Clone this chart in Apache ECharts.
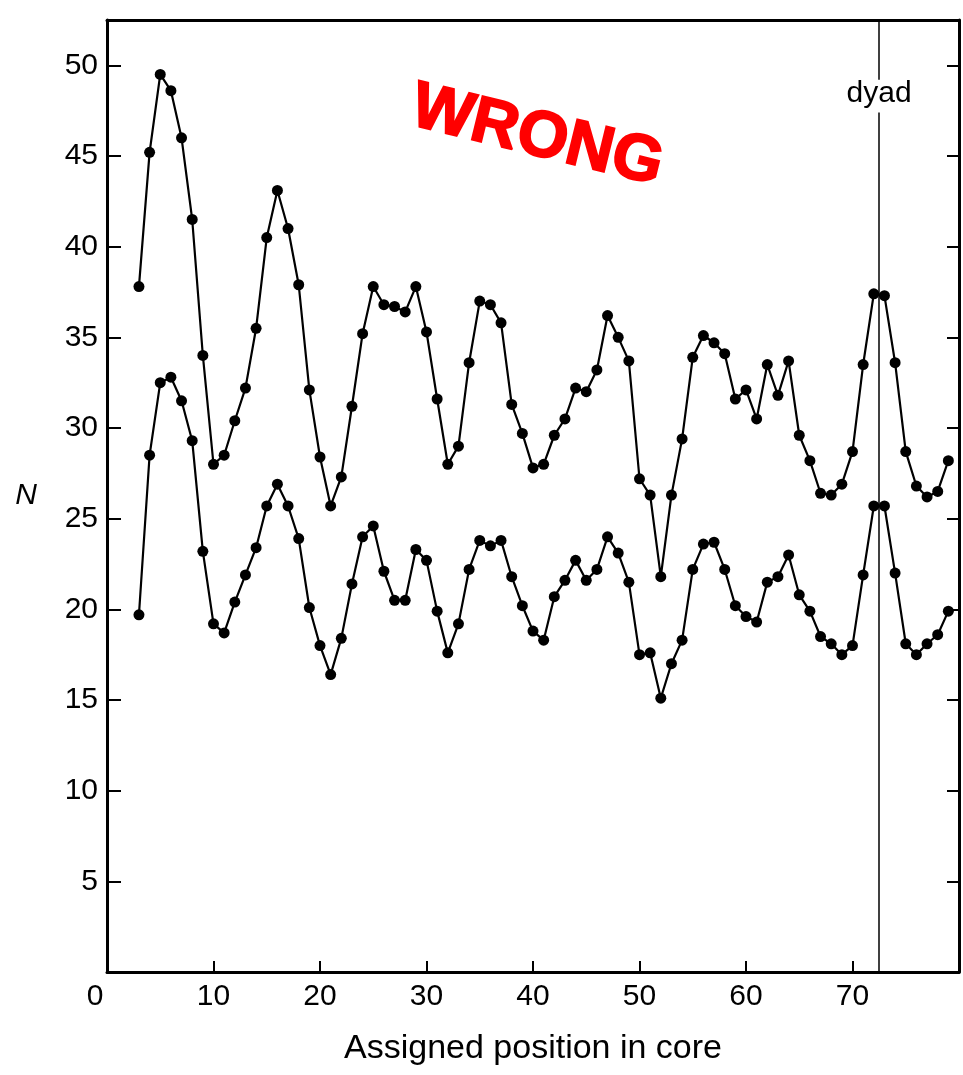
<!DOCTYPE html>
<html>
<head>
<meta charset="utf-8">
<script src="https://cdn.jsdelivr.net/npm/echarts@6/dist/echarts.min.js"></script>
<style>
  html, body { margin: 0; padding: 0; background: #fff; }
  #chart { width: 963px; height: 1075px; }
</style>
</head>
<body>
<div id="chart"></div>
<script>
// Assigned positions in core (x values)
const positions = [3, 4, 5, 6, 7, 8, 9, 10, 11, 12, 13, 14, 15, 16, 17, 18, 19, 20, 21, 22,
  23, 24, 25, 26, 27, 28, 29, 30, 31, 32, 33, 34, 35, 36, 37, 38, 39, 40, 41, 42,
  43, 44, 45, 46, 47, 48, 49, 50, 51, 52, 53, 54, 55, 56, 57, 58, 59, 60, 61, 62,
  63, 64, 65, 66, 67, 68, 69, 70, 71, 72, 73, 74, 75, 76, 77, 78, 79];

// Upper curve values (N)
const upperN = [37.8, 45.2, 49.5, 48.6, 46.0, 41.5, 34.0, 28.0, 28.5, 30.4,
  32.2, 35.5, 40.5, 43.1, 41.0, 37.9, 32.1, 28.4, 25.7, 27.3,
  31.2, 35.2, 37.8, 36.8, 36.7, 36.4, 37.8, 35.3, 31.6, 28.0,
  29.0, 33.6, 37.0, 36.8, 35.8, 31.3, 29.7, 27.8, 28.0, 29.6,
  30.5, 32.2, 32.0, 33.2, 36.2, 35.0, 33.7, 27.2, 26.3, 21.8,
  26.3, 29.4, 33.9, 35.1, 34.7, 34.1, 31.6, 32.1, 30.5, 33.5,
  31.8, 33.7, 29.6, 28.2, 26.4, 26.3, 26.9, 28.7, 33.5, 37.4,
  37.3, 33.6, 28.7, 26.8, 26.2, 26.5, 28.2];

// Lower curve values (N)
const lowerN = [19.7, 28.5, 32.5, 32.8, 31.5, 29.3, 23.2, 19.2, 18.7, 20.4,
  21.9, 23.4, 25.7, 26.9, 25.7, 23.9, 20.1, 18.0, 16.4, 18.4,
  21.4, 24.0, 24.6, 22.1, 20.5, 20.5, 23.3, 22.7, 19.9, 17.6,
  19.2, 22.2, 23.8, 23.5, 23.8, 21.8, 20.2, 18.8, 18.3, 20.7,
  21.6, 22.7, 21.6, 22.2, 24.0, 23.1, 21.5, 17.5, 17.6, 15.1,
  17.0, 18.3, 22.2, 23.6, 23.7, 22.2, 20.2, 19.6, 19.3, 21.5,
  21.8, 23.0, 20.8, 19.9, 18.5, 18.1, 17.5, 18.0, 21.9, 25.7,
  25.7, 22.0, 18.1, 17.5, 18.1, 18.6, 19.9];

// Dyad position and label gap
const dyadX = 72.5;
const dyadGapLow = 47.4;
const dyadGapHigh = 49.2;

const xMin = 0, xMax = 80, xStep = 10;
const yMin = 0, yMax = 52.5, yStep = 5;

const FONT = '"Liberation Sans", Arial, Helvetica, sans-serif';

const chart = echarts.init(document.getElementById('chart'), null, { renderer: 'canvas' });

function pairs(xs, ys) { return xs.map((x, i) => [x, ys[i]]); }

const axisLine = { show: true, onZero: false, lineStyle: { color: '#000', width: 3 } };

const option = {
  animation: false,
  backgroundColor: '#fff',
  grid: { left: 107, right: 4, top: 20, bottom: 103, containLabel: false },
  xAxis: [
    {
      type: 'value', position: 'bottom', min: xMin, max: xMax, interval: xStep,
      axisLine: axisLine,
      axisTick: { show: true, inside: true, length: 11, lineStyle: { color: '#000', width: 2 } },
      splitLine: { show: false },
      axisLabel: {
        color: '#000', fontSize: 30, fontFamily: FONT, margin: 10,
        formatter: v => (v === 0 ? '{o|0}' : (v === xMax ? '' : String(v))),
        rich: { o: { fontSize: 30, fontFamily: FONT, color: '#000', padding: [0, 24, 0, 0] } }
      },
      name: 'Assigned position in core', nameLocation: 'middle', nameGap: 60,
      nameTextStyle: { color: '#000', fontSize: 34, fontFamily: FONT }
    },
    {
      type: 'value', position: 'top', min: xMin, max: xMax, interval: xStep,
      axisLine: axisLine, axisTick: { show: false }, axisLabel: { show: false }, splitLine: { show: false }
    }
  ],
  yAxis: [
    {
      type: 'value', position: 'left', min: yMin, max: yMax, interval: yStep,
      axisLine: axisLine,
      axisTick: { show: true, inside: true, length: 14, lineStyle: { color: '#000', width: 2 } },
      splitLine: { show: false },
      axisLabel: {
        color: '#000', fontSize: 30, fontFamily: FONT, margin: 9,
        formatter: v => (v > 0 && v % 5 === 0 ? String(v) : '')
      },
      name: 'N', nameLocation: 'middle', nameGap: 70, nameRotate: 0,
      nameTextStyle: { color: '#000', fontSize: 30, fontStyle: 'italic', fontFamily: FONT, padding: [0, 0, 22, 0] }
    },
    {
      type: 'value', position: 'right', min: yMin, max: yMax, interval: yStep,
      axisLine: axisLine,
      axisTick: { show: true, inside: true, length: 12, lineStyle: { color: '#000', width: 2 } },
      axisLabel: { show: false }, splitLine: { show: false }
    }
  ],
  series: [
    {
      name: 'upper', type: 'line', data: pairs(positions, upperN),
      symbol: 'circle', symbolSize: 11,
      itemStyle: { color: '#000' }, lineStyle: { color: '#000', width: 2.2 },
      markLine: {
        silent: true, symbol: ['none', 'none'],
        lineStyle: { color: '#000', width: 1.5, type: 'solid' },
        data: [
          [
            {
              coord: [dyadX, yMin],
              label: { show: true, position: 'end', distance: 4, formatter: 'dyad', color: '#000', fontSize: 30, fontFamily: FONT }
            },
            { coord: [dyadX, dyadGapLow] }
          ],
          [
            { coord: [dyadX, dyadGapHigh], label: { show: false } },
            { coord: [dyadX, yMax] }
          ]
        ]
      }
    },
    {
      name: 'lower', type: 'line', data: pairs(positions, lowerN),
      symbol: 'circle', symbolSize: 11,
      itemStyle: { color: '#000' }, lineStyle: { color: '#000', width: 2.2 }
    }
  ],
  graphic: [
    {
      type: 'text', x: 537, y: 137, rotation: -0.24, z: 100,
      style: {
        text: 'WRONG', fill: '#ff0000', stroke: '#ff0000', lineWidth: 2,
        font: 'bold 65px "Liberation Sans", Arial, sans-serif',
        align: 'center', verticalAlign: 'middle'
      }
    }
  ]
};

chart.setOption(option);
</script>
</body>
</html>
